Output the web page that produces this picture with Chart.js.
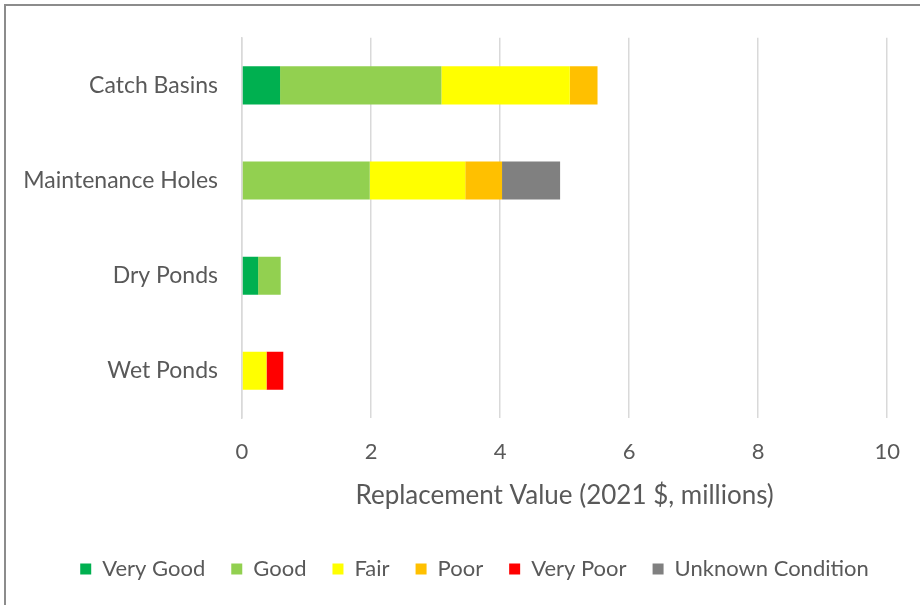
<!DOCTYPE html>
<html>
<head>
<meta charset="utf-8">
<script src="https://cdn.jsdelivr.net/npm/chart.js@4"></script>
<style>
    html, body { margin: 0; padding: 0; background: #fff; }
    #wrap { position: relative; width: 920px; height: 605px; overflow: hidden; }
    #frame { position: absolute; left: 4px; top: 4px; width: 930px; height: 620px;
             border-top: 2px solid #8c8c8c; border-left: 2px solid #8c8c8c; }
    canvas { position: absolute; left: 0; top: 0; }
</style>
</head>
<body>
<div id="wrap">
    <div id="frame"></div>
    <canvas id="assetChart" width="920" height="605"></canvas>
</div>
<script>
const categories = ["Catch Basins", "Maintenance Holes", "Dry Ponds", "Wet Ponds"];

// replacement value by condition, $ millions
const veryGood = [0.59, 0, 0.25, 0];
const good = [2.5, 1.98, 0.35, 0];
const fair = [1.99, 1.48, 0, 0.38];
const poor = [0.43, 0.57, 0, 0];
const veryPoor = [0, 0, 0, 0.26];
const unknown = [0, 0.9, 0, 0];

const xTicks = [0, 2, 4, 6, 8, 10];

const textColor = "#595959";
const fontFamily = "Lato, 'Open Sans', sans-serif";

function series(label, data, color) {
    return {
        label: label,
        data: data,
        backgroundColor: color,
        borderWidth: 0,
        barPercentage: 0.4,
        categoryPercentage: 1.0
    };
}

// nudge the legend row a little to the right of the canvas centre
const legendShift = {
    id: "legendShift",
    afterUpdate(chart) {
        chart.legend.left += 30;
        chart.legend.right += 30;
    }
};

const ctx = document.getElementById("assetChart").getContext("2d");
new Chart(ctx, {
    type: "bar",
    data: {
        labels: categories,
        datasets: [
            series("Very Good", veryGood, "#00B050"),
            series("Good", good, "#92D050"),
            series("Fair", fair, "#FFFF00"),
            series("Poor", poor, "#FFC000"),
            series("Very Poor", veryPoor, "#FF0000"),
            series("Unknown Condition", unknown, "#808080")
        ]
    },
    options: {
        indexAxis: "y",
        responsive: false,
        animation: false,
        layout: { padding: { top: 37, right: 31, bottom: 15, left: 0 } },
        scales: {
            x: {
                stacked: true,
                min: 0,
                max: 10,
                afterBuildTicks: axis => { axis.ticks = xTicks.map(v => ({ value: v })); },
                grid: { color: "#d9d9d9", lineWidth: 1.5, drawTicks: false },
                border: { display: false },
                ticks: { color: textColor, font: { family: fontFamily, size: 22 }, padding: 20 },
                title: {
                    display: true,
                    text: "Replacement Value (2021 $, millions)",
                    color: textColor,
                    font: { family: fontFamily, size: 26 },
                    padding: { top: -5, bottom: 21 }
                }
            },
            y: {
                stacked: true,
                grid: { display: false, drawTicks: false },
                border: { display: true, color: "#d9d9d9", width: 1.5 },
                ticks: { color: textColor, font: { family: fontFamily, size: 23 }, padding: 24 },
                afterFit: scale => { scale.width = 242; }
            }
        },
        plugins: {
            legend: {
                position: "bottom",
                labels: {
                    color: textColor,
                    font: { family: fontFamily, size: 22 },
                    boxWidth: 11,
                    boxHeight: 11,
                    padding: 26
                }
            },
            tooltip: { enabled: false }
        }
    },
    plugins: [legendShift]
});
</script>
</body>
</html>
